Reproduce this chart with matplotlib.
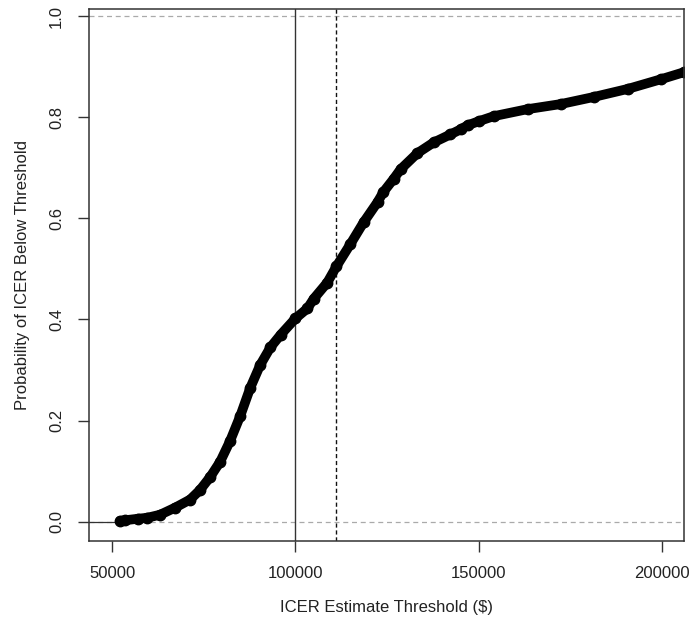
"""Acceptability curve: probability the ICER falls below a threshold."""

import matplotlib

matplotlib.use("Agg")
import matplotlib.pyplot as plt

plt.rcParams["font.family"] = ["Liberation Sans", "DejaVu Sans"]

# values (threshold $, probability)
threshold = [52200, 53500, 57000, 59600, 63100, 67200, 71300, 74000, 76800,
             79500, 82200, 85000, 87700, 90400, 93200, 96000, 100000, 103300,
             105000, 108700, 111200, 115000, 118600, 122400, 124000, 126800,
             128700, 133300, 137700, 142300, 145100, 147000, 150000, 154100,
             163400, 172400, 181400, 190700, 199700, 206000]
prob = [0.002, 0.003, 0.006, 0.008, 0.014, 0.028, 0.044, 0.063, 0.089,
        0.119, 0.160, 0.210, 0.265, 0.310, 0.345, 0.370, 0.402, 0.422,
        0.441, 0.473, 0.505, 0.549, 0.592, 0.632, 0.652, 0.678,
        0.697, 0.729, 0.750, 0.766, 0.776, 0.784, 0.792, 0.802,
        0.816, 0.826, 0.840, 0.856, 0.875, 0.889]

wtp = 100000          # solid reference line
mean_icer = 111200    # dashed reference line
x_ticks = [50000, 100000, 150000, 200000]
y_ticks = [0.0, 0.2, 0.4, 0.6, 0.8, 1.0]
x_lim = (43700, 206000)
y_lim = (-0.038, 1.014)

fig = plt.figure(figsize=(6.94, 6.23), dpi=100)
ax = fig.add_axes([0.1282, 0.1316, 0.8574, 0.854])

ax.axhline(0, color="#aaaaaa", linestyle=(0, (4, 3)), linewidth=0.9)
ax.axhline(1, color="#aaaaaa", linestyle=(0, (4, 3)), linewidth=0.9)
ax.axvline(wtp, color="#333333", linewidth=1.0)
ax.axvline(mean_icer, color="#111111", linestyle=(0, (3, 2)), linewidth=1.0)

# thin lead-in line at zero to the left of the first point
ax.plot([x_lim[0], threshold[0]], [0, 0], color="#333333", linewidth=0.9)
ax.plot(threshold, prob, color="black", linewidth=7, solid_capstyle="round",
        solid_joinstyle="round", marker="o", markersize=7.5)

ax.set_xlim(*x_lim)
ax.set_ylim(*y_lim)
ax.set_xticks(x_ticks)
ax.set_xticklabels([str(v) for v in x_ticks])
ax.set_yticks(y_ticks)
ax.set_yticklabels([f"{v:.1f}" for v in y_ticks], rotation=90, va="center")
ax.tick_params(direction="out", length=8, width=1, color="#333333",
               labelsize=12, labelcolor="#222222")
ax.tick_params(axis="x", pad=10)
ax.tick_params(axis="y", pad=10)
for s in ax.spines.values():
    s.set_color("#333333")
    s.set_linewidth(1.1)

ax.set_xlabel("ICER Estimate Threshold ($)", fontsize=12, color="#222222", labelpad=14)
ax.set_ylabel("Probability of ICER Below Threshold", fontsize=12, color="#222222",
              labelpad=14)

fig.savefig("out.png", dpi=100)
